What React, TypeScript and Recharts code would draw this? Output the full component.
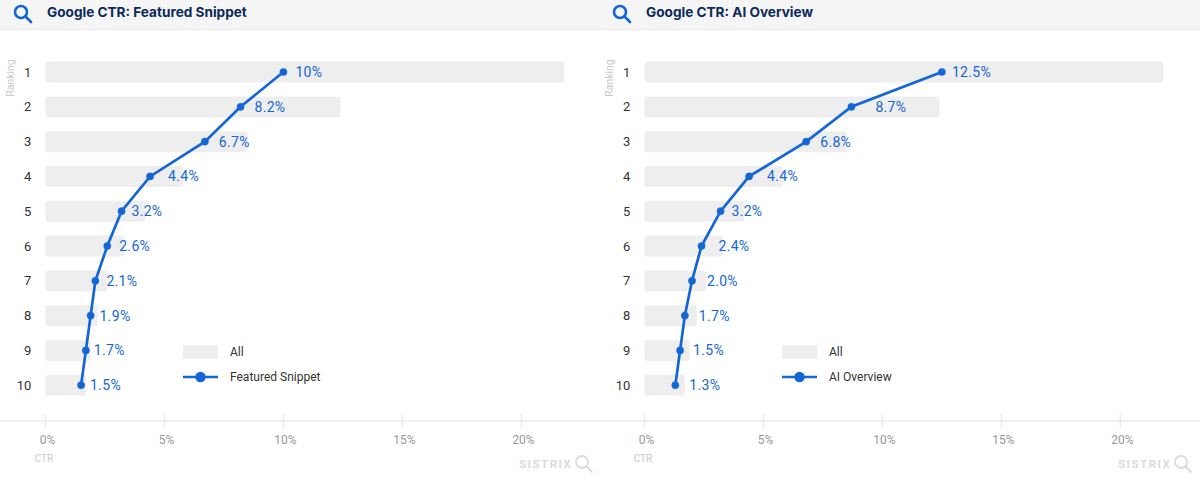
import React from 'react';
import { ComposedChart, Bar, Line, XAxis, YAxis, Legend, LabelList, Label } from 'recharts';

const rankings = ['1', '2', '3', '4', '5', '6', '7', '8', '9', '10'];
const allCtr = [21.8, 12.4, 8.5, 5.8, 4.2, 3.3, 2.6, 2.2, 1.9, 1.7];
const snippetCtr = [10, 8.2, 6.7, 4.4, 3.2, 2.6, 2.1, 1.9, 1.7, 1.5];
const overviewCtr = [12.5, 8.7, 6.8, 4.4, 3.2, 2.4, 2.0, 1.7, 1.5, 1.3];
const snippetLabels = ['10%', '8.2%', '6.7%', '4.4%', '3.2%', '2.6%', '2.1%', '1.9%', '1.7%', '1.5%'];
const overviewLabels = ['12.5%', '8.7%', '6.8%', '4.4%', '3.2%', '2.4%', '2.0%', '1.7%', '1.5%', '1.3%'];
const xTicks = [0, 5, 10, 15, 20];

// distance from a point to its label, in the order of the rankings
const snippetNudge = [12, 14, 14, 18, 10, 12, 11, 9, 8, 9];
const overviewNudge = [10, 24, 14, 18, 11, 17, 15, 14, 13, 14];

const BLUE = '#1366d6';
const FONT = 'Roboto, sans-serif';

const Lens = ({ color, sw = 2.6 }: { color: string; sw?: number }) => (
  <svg width="20" height="20" viewBox="0 0 20 20" style={{ display: 'block' }}>
    <circle cx="8" cy="8" r="6" fill="none" stroke={color} strokeWidth={sw} />
    <line x1="12.5" y1="12.5" x2="18" y2="18" stroke={color} strokeWidth={sw} strokeLinecap="round" />
  </svg>
);

const XTick = (props: any) => {
  const { x, y, payload } = props;
  return (
    <g>
      <line x1={x} x2={x} y1={y - 7} y2={y + 7} stroke="#ececec" strokeWidth={1.5} />
      <text x={x + 2} y={y + 22.5} textAnchor="middle" fontSize={12} fontFamily={FONT} fill="#999">
        {payload.value}%
      </text>
    </g>
  );
};

const LegendBox = ({ payload }: any) => (
  <div style={{ fontFamily: FONT, fontSize: 12, color: '#333' }}>
    {(payload || []).map((item: any) => (
      <div key={item.value} style={{ display: 'flex', alignItems: 'center', height: 24.5 }}>
        <svg width="35" height="16" style={{ marginRight: 12 }}>
          {item.type === 'line' ? (
            <g>
              <line x1="0" x2="35" y1="8" y2="8" stroke={BLUE} strokeWidth={2.6} />
              <circle cx="17.5" cy="8" r="5.2" fill={BLUE} />
            </g>
          ) : (
            <rect x="0" y="1" width="35" height="14" rx="1.5" fill="#eeeeee" />
          )}
        </svg>
        <span>{item.value}</span>
      </div>
    ))}
  </div>
);

const Panel = ({ title, name, values, labels, nudge, left }: any) => {
  const rows = rankings.map((rank, i) => ({ rank, all: allCtr[i], ctr: values[i], text: labels[i], i }));
  const renderLabel = (p: any) => {
    const idx = p.index;
    return (
      <text x={p.x + nudge[idx]} y={p.y + 5} fontSize={14} fontWeight={400} fontFamily={FONT} fill={BLUE} letterSpacing={0.3}>
        {labels[idx]}
      </text>
    );
  };
  return (
    <div style={{ position: 'absolute', left, top: 0, width: 600, height: 480 }}>
      <div style={{ position: 'absolute', left: 13, top: 4 }}>
        <Lens color={BLUE} />
      </div>
      <div
        style={{
          position: 'absolute', left: 47, top: 2, height: 20, lineHeight: '20px', whiteSpace: 'nowrap',
          fontFamily: 'Inter, sans-serif', fontWeight: 700, fontSize: 13.6, color: '#0c2a5a',
        }}
      >
        {title}
      </div>
      <ComposedChart
        width={600}
        height={480}
        data={rows}
        layout="vertical"
        margin={{ top: 54.6, right: 7.2, bottom: 0, left: 0 }}
        barCategoryGap={0}
      >
        <XAxis
          type="number"
          domain={[0, 23]}
          ticks={xTicks}
          interval={0}
          height={59}
          axisLine={false}
          tickLine={false}
          tickSize={0}
          tickMargin={0}
          tick={<XTick />}
        >
          <Label
            content={() => (
              <text x={44} y={462} textAnchor="middle" fontSize={10} fontFamily={FONT} fill="#c8c8c8">CTR</text>
            )}
          />
        </XAxis>
        <YAxis
          type="category"
          dataKey="rank"
          width={45.4}
          interval={0}
          padding={{ top: 0, bottom: 18.4 }}
          axisLine={false}
          tickLine={false}
          tickSize={0}
          tickMargin={14}
          tick={{ fontSize: 13, fontFamily: FONT, fill: '#333' }}
        >
          <Label
            content={() => (
              <text x={0} y={0} transform="translate(13.5,78) rotate(-90)" textAnchor="middle" fontSize={10.5} fontFamily={FONT} fill="#c8c8c8">
                Ranking
              </text>
            )}
          />
        </YAxis>
        <Bar dataKey="all" name="All" fill="#eeeeee" barSize={21} radius={3} isAnimationActive={false} />
        <Line
          dataKey="ctr"
          name={name}
          stroke={BLUE}
          strokeWidth={2.7}
          dot={{ r: 3.6, fill: BLUE, stroke: BLUE, strokeWidth: 0.5 }}
          isAnimationActive={false}
        >
          <LabelList dataKey="text" content={renderLabel} />
        </Line>
        <Legend
          content={<LegendBox />}
          layout="vertical"
          align="center"
          verticalAlign="middle"
          itemSorter={(item: any) => (item.type === 'line' ? 1 : 0)}
          wrapperStyle={{ position: 'absolute', left: 183, top: 340, width: 220, bottom: 'auto' }}
        />
      </ComposedChart>
      <div
        style={{
          position: 'absolute', left: 519, top: 454, display: 'flex', alignItems: 'center',
          fontFamily: FONT, fontWeight: 700, fontSize: 11.5, letterSpacing: 1.5, color: '#dcdcdc',
        }}
      >
        <span style={{ width: 55 }}>SISTRIX</span>
        <Lens color="#dcdcdc" sw={1.8} />
      </div>
    </div>
  );
};

export default function App() {
  return (
    <div style={{ position: 'absolute', left: 0, top: 0, width: 1200, height: 480, overflow: 'hidden', background: '#fff' }}>
      <div style={{ position: 'absolute', left: 0, top: 0, width: 1200, height: 29, background: '#f5f5f5', borderBottom: '1px solid #ececec' }} />
      <div style={{ position: 'absolute', left: 0, top: 420, width: 1200, height: 2, background: '#f0f0f0' }} />
      <Panel left={0} title="Google CTR: Featured Snippet" name="Featured Snippet" values={snippetCtr} labels={snippetLabels} nudge={snippetNudge} />
      <Panel left={599} title="Google CTR: AI Overview" name="AI Overview" values={overviewCtr} labels={overviewLabels} nudge={overviewNudge} />
    </div>
  );
}
